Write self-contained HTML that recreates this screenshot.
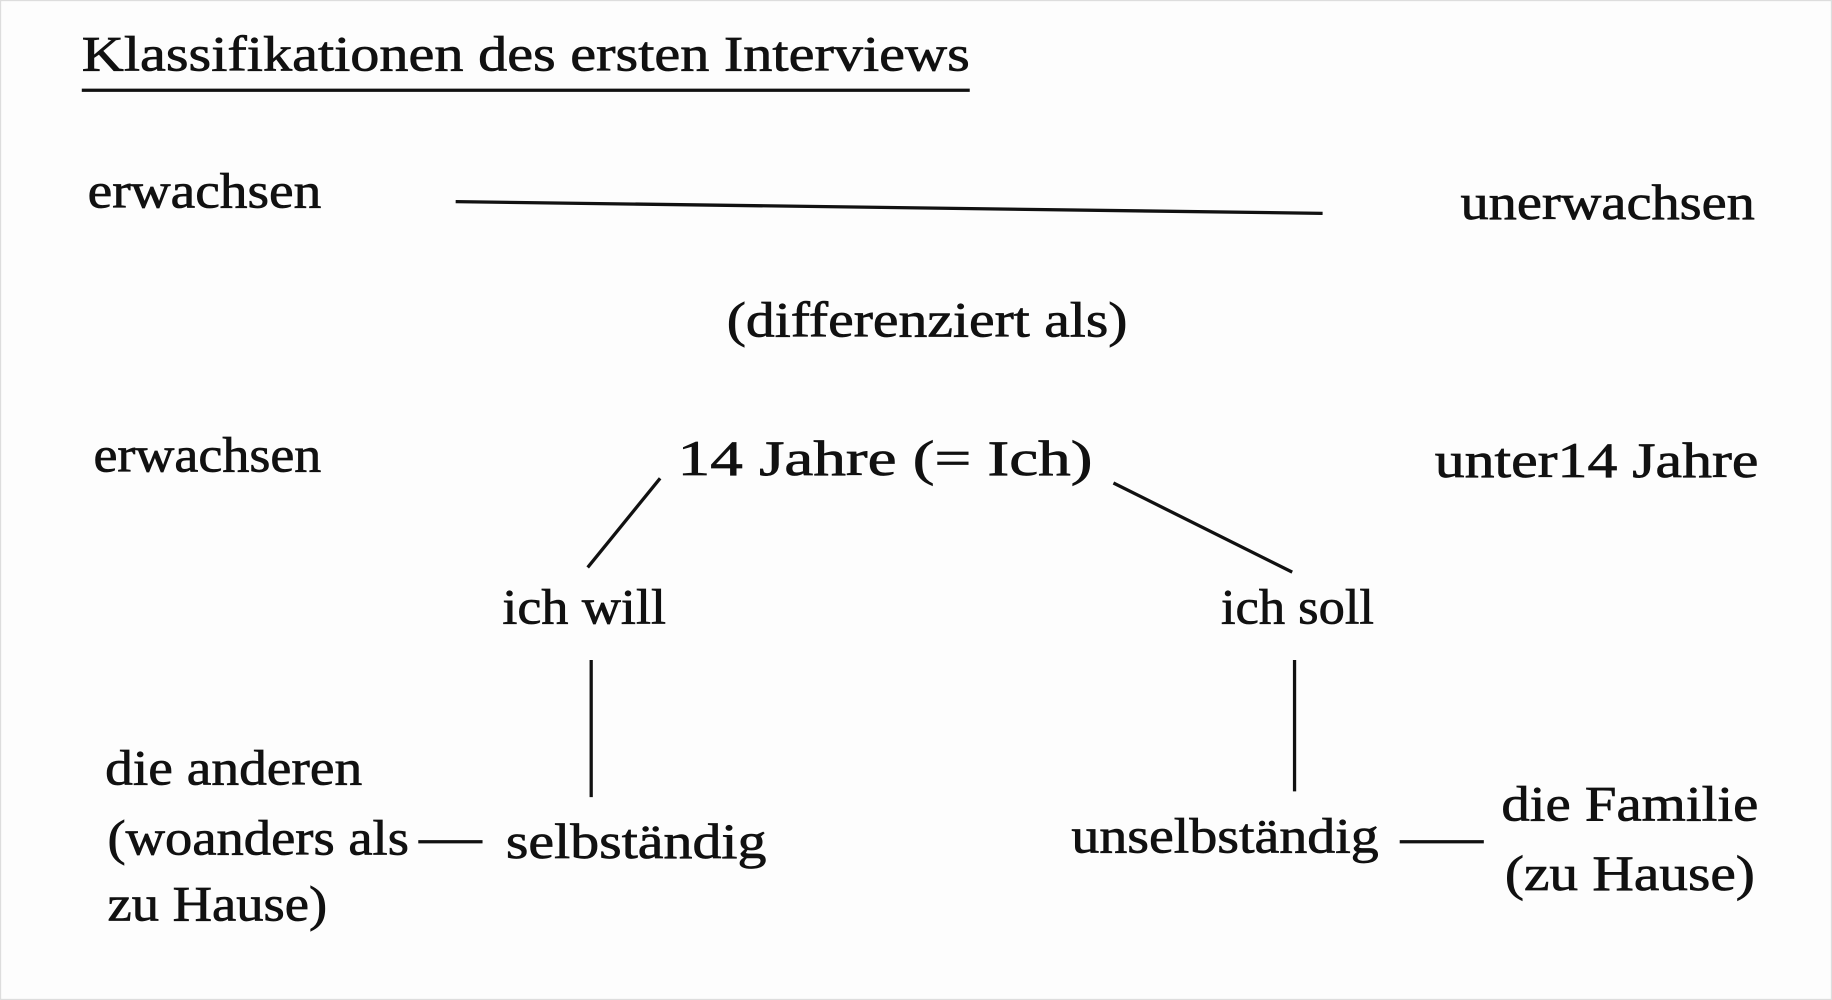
<!DOCTYPE html>
<html><head><meta charset="utf-8"><style>
html,body{margin:0;padding:0;background:#fff;}
svg{display:block;}
text{font-family:"Liberation Serif",serif;font-size:42px;fill:#111;stroke:#111;stroke-width:0.6;}
</style></head><body>
<svg width="1832" height="1000" viewBox="0 0 1568 853" preserveAspectRatio="none" xmlns="http://www.w3.org/2000/svg">
<rect width="1568" height="853" fill="#fdfdfd"/>
<rect x="0.5" y="0.5" width="1567" height="852" fill="none" stroke="#ddd"/>
<g stroke="#111" stroke-width="2.8" fill="none">
<line x1="70" y1="77" x2="830" y2="77"/>
<line x1="390" y1="172" x2="1132" y2="182"/>
<line x1="565" y1="408" x2="503" y2="484"/>
<line x1="953" y1="412" x2="1106" y2="488"/>
<line x1="506" y1="563" x2="506" y2="680"/>
<line x1="1108" y1="563" x2="1108" y2="675"/>
<line x1="358" y1="718" x2="413" y2="718"/>
<line x1="1198" y1="718" x2="1270" y2="718"/>
</g>
<g transform="translate(0,-3)">
<text x="70" y="63" textLength="760" lengthAdjust="spacingAndGlyphs">Klassifikationen des ersten Interviews</text>
<text x="75" y="180" textLength="200" lengthAdjust="spacingAndGlyphs">erwachsen</text>
<text x="1250" y="190" textLength="252" lengthAdjust="spacingAndGlyphs">unerwachsen</text>
<text x="622" y="290" textLength="343" lengthAdjust="spacingAndGlyphs">(differenziert als)</text>
<text x="80" y="405" textLength="195" lengthAdjust="spacingAndGlyphs">erwachsen</text>
<text x="580" y="408" textLength="355" lengthAdjust="spacingAndGlyphs">14 Jahre (= Ich)</text>
<text x="1228" y="410" textLength="277" lengthAdjust="spacingAndGlyphs">unter14 Jahre</text>
<text x="430" y="535" textLength="140" lengthAdjust="spacingAndGlyphs">ich will</text>
<text x="1045" y="535" textLength="131" lengthAdjust="spacingAndGlyphs">ich soll</text>
<text x="90" y="672" textLength="220" lengthAdjust="spacingAndGlyphs">die anderen</text>
<text x="92" y="732" textLength="258" lengthAdjust="spacingAndGlyphs">(woanders als</text>
<text x="92" y="788" textLength="188" lengthAdjust="spacingAndGlyphs">zu Hause)</text>
<text x="433" y="735" textLength="223" lengthAdjust="spacingAndGlyphs">selbständig</text>
<text x="917" y="730" textLength="263" lengthAdjust="spacingAndGlyphs">unselbständig</text>
<text x="1285" y="703" textLength="220" lengthAdjust="spacingAndGlyphs">die Familie</text>
<text x="1288" y="762" textLength="214" lengthAdjust="spacingAndGlyphs">(zu Hause)</text>
</g>
</svg>
</body></html>
